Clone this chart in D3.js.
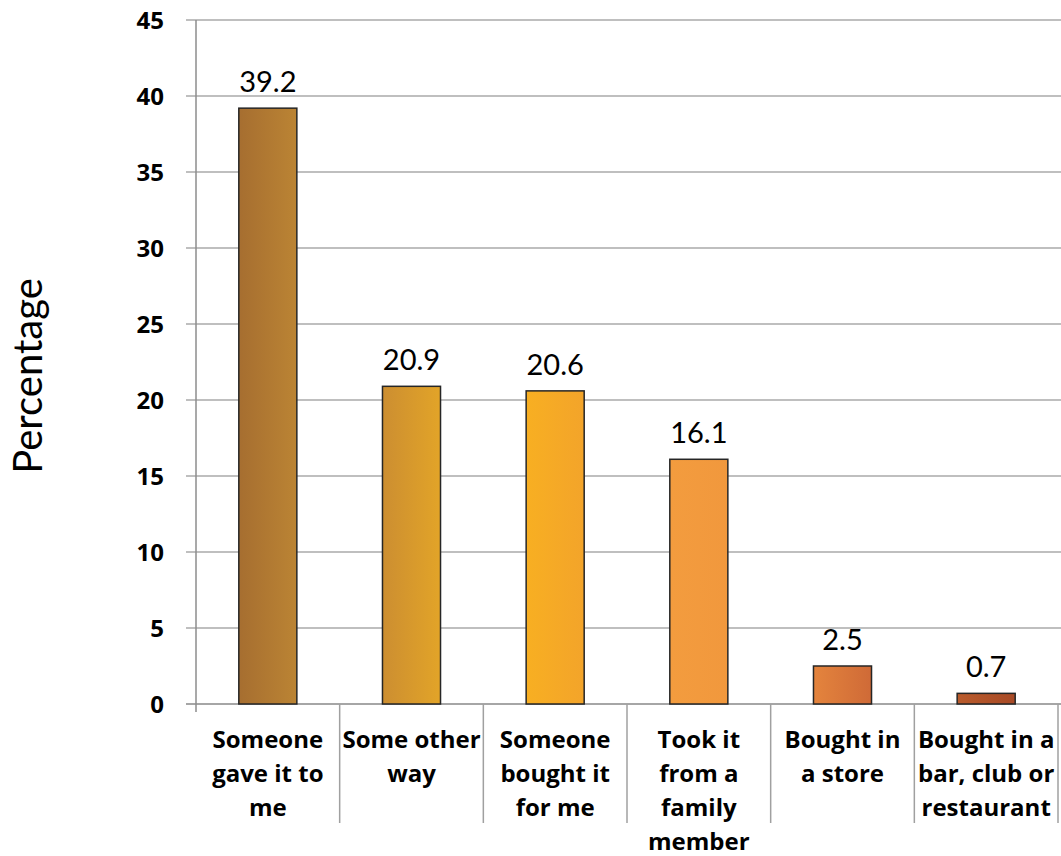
<!DOCTYPE html>
<html>
<head>
<meta charset="utf-8">
<script src="https://cdn.jsdelivr.net/npm/d3@7"></script>
<style>
  html, body { margin: 0; padding: 0; background: #fff; }
  svg { display: block; }
</style>
</head>
<body>
<svg id="chart" width="1061" height="856"></svg>
<script>
const categories = [
  "Someone gave it to me",
  "Some other way",
  "Someone bought it for me",
  "Took it from a family member",
  "Bought in a store",
  "Bought in a bar, club or restaurant"
];
const categoryLines = [
  ["Someone", "gave it to", "me"],
  ["Some other", "way"],
  ["Someone", "bought it", "for me"],
  ["Took it", "from a", "family", "member"],
  ["Bought in", "a store"],
  ["Bought in a", "bar, club or", "restaurant"]
];
const values = [39.2, 20.9, 20.6, 16.1, 2.5, 0.7];
const yTicks = [0, 5, 10, 15, 20, 25, 30, 35, 40, 45];
const yTitle = "Percentage";
const barColors = [
  ["#a66e30", "#bb8434"],
  ["#cc8e31", "#e2a428"],
  ["#f8af22", "#f3a42a"],
  ["#f39c3e", "#f1983d"],
  ["#e4843d", "#cf6a37"],
  ["#b95b2c", "#a84a26"]
];

(function () {
const svg = d3.select("#chart");
const pL = 196, pR = 1058, pT = 20, pB = 704;

const x = d3.scaleBand().domain(categories).range([pL, pR]).paddingInner(0).paddingOuter(0);
const y = d3.scaleLinear().domain([0, 45]).range([pB, pT]);
const barW = x.bandwidth() * 0.404;

const defs = svg.append("defs");
barColors.forEach((c, i) => {
  const g = defs.append("linearGradient").attr("id", "g" + i)
    .attr("x1", "0%").attr("x2", "100%").attr("y1", "0%").attr("y2", "0%");
  g.append("stop").attr("offset", "0%").attr("stop-color", c[0]);
  g.append("stop").attr("offset", "100%").attr("stop-color", c[1]);
});

// gridlines
svg.append("g").selectAll("line").data(yTicks).join("line")
  .attr("x1", pL - 10).attr("x2", pR + 3)
  .attr("y1", d => y(d)).attr("y2", d => y(d))
  .attr("stroke", d => d === 0 ? "#a6a6a6" : "#bfbfbf")
  .attr("stroke-width", 2);

// y axis line
svg.append("line")
  .attr("x1", pL).attr("x2", pL)
  .attr("y1", y(45)).attr("y2", pB + 8)
  .attr("stroke", "#8c8c8c").attr("stroke-width", 1.5);

// category separators
const seps = categories.map(c => x(c) + x.bandwidth());
svg.append("g").selectAll("line").data(seps).join("line")
  .attr("x1", d => d).attr("x2", d => d)
  .attr("y1", pB).attr("y2", 823)
  .attr("stroke", "#a0a0a0").attr("stroke-width", 1.5);

// y tick labels
svg.append("g").selectAll("text").data(yTicks).join("text")
  .attr("x", 164).attr("y", d => y(d))
  .attr("dy", "0.36em")
  .attr("text-anchor", "end")
  .attr("font-family", "'Open Sans', Lato, sans-serif")
  .attr("font-weight", "bold")
  .attr("font-size", 24)
  .attr("fill", "#000")
  .text(d => d);

// bars
svg.append("g").selectAll("rect").data(values).join("rect")
  .attr("x", (d, i) => x(categories[i]) + x.bandwidth() / 2 - barW / 2)
  .attr("width", barW)
  .attr("y", d => y(d))
  .attr("height", d => y(0) - y(d))
  .attr("fill", (d, i) => `url(#g${i})`)
  .attr("stroke", "#262626")
  .attr("stroke-width", 1.5);

// value labels
svg.append("g").selectAll("text").data(values).join("text")
  .attr("x", (d, i) => x(categories[i]) + x.bandwidth() / 2)
  .attr("y", d => y(d) - 16)
  .attr("text-anchor", "middle")
  .attr("font-family", "Lato, 'Open Sans', sans-serif")
  .attr("font-size", 29)
  .attr("fill", "#000")
  .text(d => d.toFixed(1));

// category labels
const cl = svg.append("g").selectAll("text").data(categoryLines).join("text")
  .attr("text-anchor", "middle")
  .attr("font-family", "'Open Sans', Lato, sans-serif")
  .attr("font-weight", "bold")
  .attr("font-size", 24)
  .attr("fill", "#000");
cl.each(function (lines, i) {
  const cx = x(categories[i]) + x.bandwidth() / 2;
  d3.select(this).selectAll("tspan").data(lines).join("tspan")
    .attr("x", cx)
    .attr("y", (d, j) => 748 + j * 34)
    .text(d => d);
});

// y title
svg.append("text")
  .attr("transform", "translate(42,376) rotate(-90)")
  .attr("text-anchor", "middle")
  .attr("font-family", "Lato, 'Open Sans', sans-serif")
  .attr("font-size", 40)
  .attr("fill", "#000")
  .text(yTitle);
})();
</script>
</body>
</html>
